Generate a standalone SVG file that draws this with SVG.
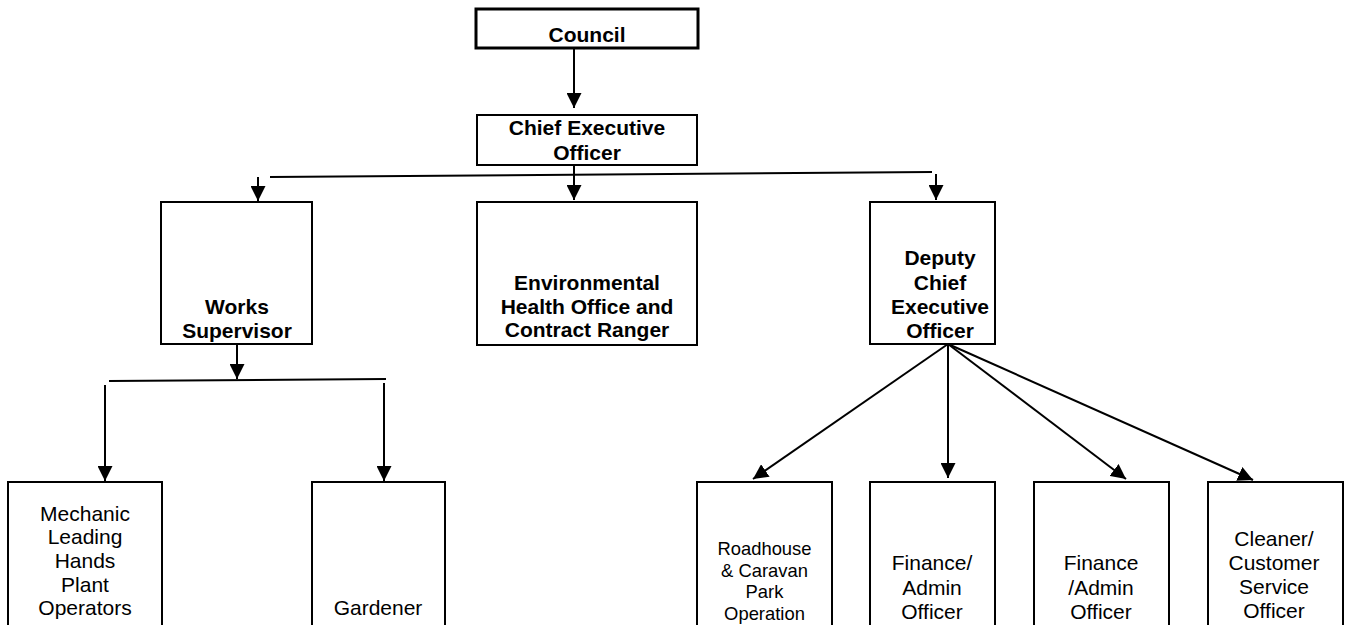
<svg xmlns="http://www.w3.org/2000/svg" width="1347" height="625" viewBox="0 0 1347 625">
<style>
.box{fill:#fff;stroke:#000;stroke-width:2}
.thick{stroke-width:3}
.b{font-family:"Liberation Sans",Arial,sans-serif;font-weight:bold;font-size:21px;text-anchor:middle;fill:#000}
.r{font-family:"Liberation Sans",Arial,sans-serif;font-size:21px;text-anchor:middle;fill:#000}
.s{font-family:"Liberation Sans",Arial,sans-serif;font-size:18.4px;text-anchor:middle;fill:#000}
.c{stroke:#000;stroke-width:2;fill:none}
.a{marker-end:url(#arr)}
</style>
<defs>
<marker id="arr" markerUnits="userSpaceOnUse" markerWidth="15" markerHeight="15" refX="15" refY="7.5" orient="auto">
<path d="M0,0 L15,7.5 L0,15 z" fill="#000"/>
</marker>
</defs>
<rect width="1347" height="625" fill="#fff"/>
<g id="connectors">
<line class="c a" x1="574" y1="49" x2="574" y2="108"/>
<line class="c" x1="270" y1="177" x2="932" y2="172"/>
<line class="c a" x1="258" y1="177" x2="258" y2="201"/>
<line class="c a" x1="574" y1="166" x2="574" y2="200"/>
<line class="c a" x1="936" y1="174" x2="936" y2="200"/>
<line class="c a" x1="237" y1="345" x2="237" y2="379"/>
<line class="c" x1="109" y1="381" x2="386" y2="379"/>
<line class="c a" x1="105" y1="385" x2="105" y2="481"/>
<line class="c a" x1="384" y1="383" x2="384" y2="481"/>
<line class="c a" x1="948" y1="344" x2="753" y2="479"/>
<line class="c a" x1="948" y1="344" x2="948" y2="478"/>
<line class="c a" x1="948" y1="344" x2="1126" y2="479"/>
<line class="c a" x1="948" y1="344" x2="1253" y2="480"/>
</g>
<g id="council">
<rect class="box thick" x="476" y="9" width="222" height="39"/>
<text class="b" x="587" y="42">Council</text>
</g>
<g id="ceo">
<rect class="box" x="477" y="115" width="220" height="50"/>
<text class="b" x="587" y="135">Chief Executive</text>
<text class="b" x="587" y="160">Officer</text>
</g>
<g id="works">
<rect class="box" x="161" y="202" width="151" height="142"/>
<text class="b" x="237" y="314">Works</text>
<text class="b" x="237" y="338">Supervisor</text>
</g>
<g id="env">
<rect class="box" x="477" y="202" width="220" height="143"/>
<text class="b" x="587" y="290">Environmental</text>
<text class="b" x="587" y="314">Health Office and</text>
<text class="b" x="587" y="337">Contract Ranger</text>
</g>
<g id="deputy">
<rect class="box" x="870" y="202" width="125" height="142"/>
<text class="b" x="940" y="265">Deputy</text>
<text class="b" x="940" y="290">Chief</text>
<text class="b" x="940" y="314">Executive</text>
<text class="b" x="940" y="338">Officer</text>
</g>
<g id="mechanic">
<rect class="box" x="8" y="482" width="154" height="150"/>
<text class="r" x="85" y="521">Mechanic</text>
<text class="r" x="85" y="544">Leading</text>
<text class="r" x="85" y="568">Hands</text>
<text class="r" x="85" y="592">Plant</text>
<text class="r" x="85" y="615">Operators</text>
</g>
<g id="gardener">
<rect class="box" x="312" y="482" width="133" height="150"/>
<text class="r" x="378" y="615">Gardener</text>
</g>
<g id="roadhouse">
<rect class="box" x="697" y="482" width="135" height="150"/>
<text class="s" x="764.5" y="555">Roadhouse</text>
<text class="s" x="764.5" y="577">&amp; Caravan</text>
<text class="s" x="764.5" y="598">Park</text>
<text class="s" x="764.5" y="620">Operation</text>
</g>
<g id="finance1">
<rect class="box" x="870" y="482" width="125" height="150"/>
<text class="r" x="932" y="570">Finance/</text>
<text class="r" x="932" y="595">Admin</text>
<text class="r" x="932" y="619">Officer</text>
</g>
<g id="finance2">
<rect class="box" x="1034" y="482" width="135" height="150"/>
<text class="r" x="1101" y="570">Finance</text>
<text class="r" x="1101" y="595">/Admin</text>
<text class="r" x="1101" y="619">Officer</text>
</g>
<g id="cleaner">
<rect class="box" x="1208" y="482" width="135" height="150"/>
<text class="r" x="1274" y="546">Cleaner/</text>
<text class="r" x="1274" y="570">Customer</text>
<text class="r" x="1274" y="594">Service</text>
<text class="r" x="1274" y="618">Officer</text>
</g>
</svg>
